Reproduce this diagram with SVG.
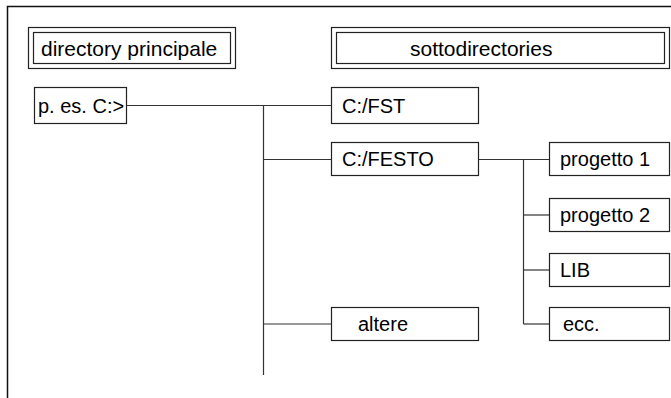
<svg xmlns="http://www.w3.org/2000/svg" width="671" height="398" viewBox="0 0 671 398">
<style>
.b{fill:#fff;stroke:#222;stroke-width:1.2}
.c{fill:none;stroke:#333;stroke-width:1.2}
.t{font-family:"Liberation Sans",Arial,sans-serif;font-size:20px;fill:#000}
.h{font-size:21px}
</style>
<rect width="671" height="398" fill="#fff"/>
<path d="M7.5,398 V6.5 H671" fill="none" stroke="#111" stroke-width="1.5"/>
<g id="connectors">
<path class="c" d="M127,105.5 H331"/>
<path class="c" d="M263.5,105.5 V375"/>
<path class="c" d="M263.5,159.5 H331"/>
<path class="c" d="M263.5,324 H331"/>
<path class="c" d="M479,159.5 H550"/>
<path class="c" d="M523.5,159.5 V324"/>
<path class="c" d="M523.5,215 H550"/>
<path class="c" d="M523.5,270 H550"/>
<path class="c" d="M523.5,324 H550"/>
</g>
<g id="hdr-main">
<rect class="b" x="28.5" y="27.5" width="207" height="41"/>
<rect class="b" x="33.5" y="32.5" width="197" height="31"/>
<text class="t h" x="41" y="55.5">directory principale</text>
</g>
<g id="hdr-sub">
<rect class="b" x="331.5" y="27.5" width="338" height="41"/>
<rect class="b" x="336.5" y="32.5" width="328" height="31"/>
<text class="t h" x="410" y="55.5">sottodirectories</text>
</g>
<g id="root">
<rect class="b" x="34.5" y="87.5" width="92" height="36"/>
<text class="t" x="38" y="112.5">p. es. C:&gt;</text>
</g>
<g id="fst">
<rect class="b" x="331.5" y="87.5" width="147" height="36"/>
<text class="t" x="342" y="112.5">C:/FST</text>
</g>
<g id="festo">
<rect class="b" x="331.5" y="142.5" width="147" height="33"/>
<text class="t" x="342" y="166">C:/FESTO</text>
</g>
<g id="altere">
<rect class="b" x="331.5" y="307.5" width="147" height="33"/>
<text class="t" x="358" y="331">altere</text>
</g>
<g id="p1">
<rect class="b" x="549.5" y="142.5" width="120" height="33"/>
<text class="t" x="560" y="166">progetto 1</text>
</g>
<g id="p2">
<rect class="b" x="549.5" y="198.5" width="120" height="33"/>
<text class="t" x="560" y="222">progetto 2</text>
</g>
<g id="lib">
<rect class="b" x="549.5" y="253.5" width="120" height="33"/>
<text class="t" x="560" y="277">LIB</text>
</g>
<g id="ecc">
<rect class="b" x="549.5" y="307.5" width="120" height="33"/>
<text class="t" x="563" y="331">ecc.</text>
</g>
</svg>
